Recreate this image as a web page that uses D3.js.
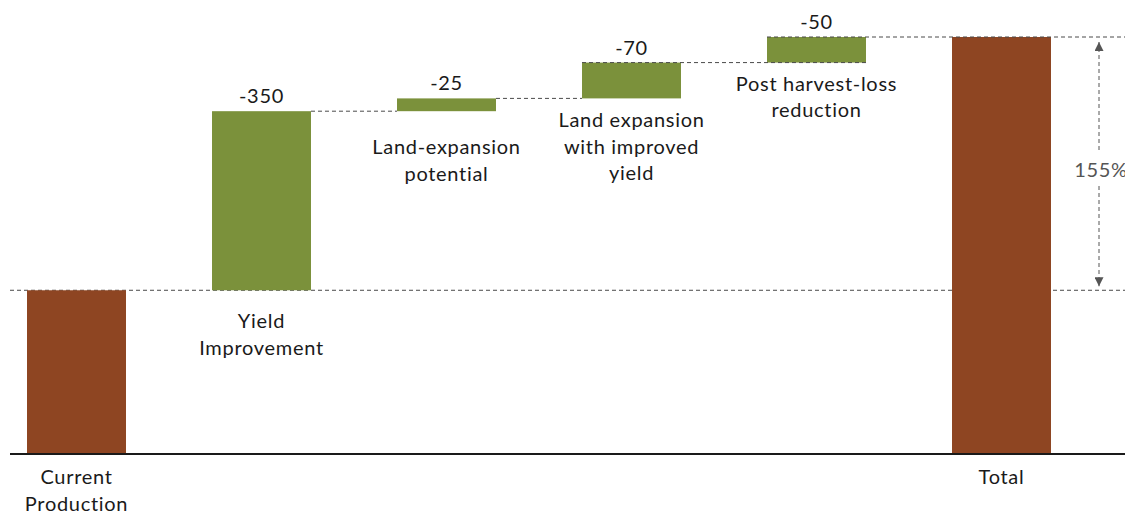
<!DOCTYPE html>
<html>
<head>
<meta charset="utf-8">
<script src="https://cdn.jsdelivr.net/npm/d3@7"></script>
<style>
  html, body { margin: 0; padding: 0; background: #fff; }
  svg { display: block; }
  text { font-family: Lato, "Open Sans", sans-serif; letter-spacing: 0.7px; }
</style>
</head>
<body>
<svg id="chart" width="1125" height="512"></svg>
<script>
// ---- data ----
const categories = ["Current Production", "Yield Improvement", "Land-expansion potential",
  "Land expansion with improved yield", "Post harvest-loss reduction", "Total"];
const labelLines = [["Current", "Production"], ["Yield", "Improvement"], ["Land-expansion", "potential"],
  ["Land expansion", "with improved", "yield"], ["Post harvest-loss", "reduction"], ["Total"]];
const kinds = ["total", "step", "step", "step", "step", "total"];
const values = [320, 350, 25, 70, 50, 815];
const valueLabels = ["", "-350", "-25", "-70", "-50", ""];
const changeLabel = "155%";

// ---- layout ----
const W = 1125, H = 512, baseY = 454, topY = 37;
const colors = { total: "#8E4522", step: "#7B913B" };
const labelOffsets = [30, 38, 43, 29, 28, 30];

const svg = d3.select("#chart");

// cumulative starts/ends
let run = 0;
const bars = categories.map((c, i) => {
  let start, end;
  if (kinds[i] === "total") { start = 0; end = values[i]; run = values[i]; }
  else { start = run; end = run + values[i]; run = end; }
  return { cat: c, i, start, end, kind: kinds[i] };
});

const x = d3.scaleBand().domain(categories).range([-16, 1094]).paddingInner(0.465).paddingOuter(0.2325);
const y = d3.scaleLinear().domain([0, values[5]]).range([baseY, topY]);

const dash = "4,3";
const lineColor = "#4a4a4a";

// full-width dashed line at current production level
svg.append("line").attr("x1", 10).attr("x2", W)
  .attr("y1", y(values[0])).attr("y2", y(values[0]))
  .attr("stroke", lineColor).attr("stroke-width", 1).attr("stroke-dasharray", dash);

// connectors
const conns = [
  { v: bars[1].end, x1: x(categories[1]) + x.bandwidth(), x2: x(categories[2]) },
  { v: bars[2].end, x1: x(categories[2]) + x.bandwidth(), x2: x(categories[3]) },
  { v: bars[3].end, x1: x(categories[3]), x2: x(categories[4]) + x.bandwidth() },
  { v: bars[4].end, x1: x(categories[4]), x2: W }
];

// bars
svg.selectAll("rect.bar").data(bars).enter().append("rect")
  .attr("class", "bar")
  .attr("x", d => x(d.cat))
  .attr("width", x.bandwidth())
  .attr("y", d => y(d.end))
  .attr("height", d => y(d.start) - y(d.end))
  .attr("fill", d => colors[d.kind]);

svg.selectAll("line.conn").data(conns).enter().append("line")
  .attr("class", "conn")
  .attr("x1", d => d.x1).attr("x2", d => d.x2)
  .attr("y1", d => y(d.v)).attr("y2", d => y(d.v))
  .attr("stroke", lineColor).attr("stroke-width", 1).attr("stroke-dasharray", dash);

// baseline axis
const xAxis = d3.axisBottom(x).tickSize(0).tickFormat("");
const axisG = svg.append("g").attr("transform", `translate(0,${baseY})`).call(xAxis);
axisG.select(".domain").remove();
svg.append("line").attr("x1", 10).attr("x2", W).attr("y1", baseY).attr("y2", baseY)
  .attr("stroke", "#1a1a1a").attr("stroke-width", 2);

// value labels
svg.selectAll("text.val").data(bars.filter(d => valueLabels[d.i])).enter().append("text")
  .attr("class", "val")
  .attr("x", d => x(d.cat) + x.bandwidth() / 2)
  .attr("y", d => y(d.end) - 8)
  .attr("text-anchor", "middle")
  .attr("font-size", 20)
  .attr("fill", "#1a1a1a")
  .text(d => valueLabels[d.i]);

// category labels
const cl = svg.selectAll("text.cat").data(bars).enter().append("text")
  .attr("class", "cat")
  .attr("text-anchor", "middle")
  .attr("font-size", 20)
  .attr("fill", "#1a1a1a")
  .attr("y", d => y(d.start) + labelOffsets[d.i]);
cl.selectAll("tspan").data(d => labelLines[d.i].map(t => ({ t, d }))).enter().append("tspan")
  .attr("x", o => x(o.d.cat) + x.bandwidth() / 2)
  .attr("dy", (o, j) => j === 0 ? 0 : 26.5)
  .text(o => o.t);

// change arrow
const defs = svg.append("defs");
defs.append("marker").attr("id", "arr").attr("viewBox", "0 0 10 10")
  .attr("refX", 10).attr("refY", 5).attr("markerWidth", 9).attr("markerHeight", 9)
  .attr("markerUnits", "userSpaceOnUse").attr("orient", "auto")
  .append("path").attr("d", "M0,0 L10,5 L0,10 Z").attr("fill", "#555");

const ax = 1099;
const yTop = y(values[5]) + 5, yBot = y(values[0]) - 4;
svg.append("line").attr("x1", ax).attr("x2", ax).attr("y1", 150).attr("y2", yTop)
  .attr("stroke", "#555").attr("stroke-width", 1).attr("stroke-dasharray", dash)
  .attr("marker-end", "url(#arr)");
svg.append("line").attr("x1", ax).attr("x2", ax).attr("y1", 186).attr("y2", yBot)
  .attr("stroke", "#555").attr("stroke-width", 1).attr("stroke-dasharray", dash)
  .attr("marker-end", "url(#arr)");
svg.append("text").attr("x", 1101).attr("y", 177).attr("text-anchor", "middle")
  .attr("font-size", 20).attr("fill", "#555").text(changeLabel);
</script>
</body>
</html>
